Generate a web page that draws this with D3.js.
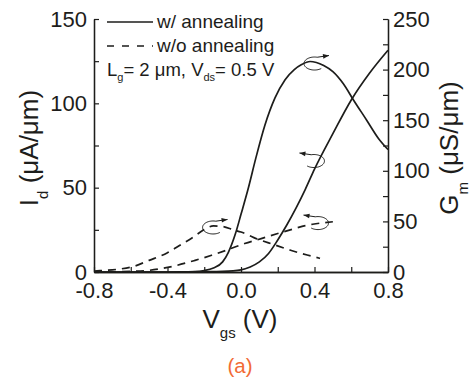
<!DOCTYPE html>
<html><head><meta charset="utf-8">
<script src="https://cdn.jsdelivr.net/npm/d3@7/dist/d3.min.js"></script>
<style>
html,body{margin:0;padding:0;background:#fff;}
svg{display:block;font-family:Arial,"Liberation Sans",Helvetica,sans-serif;}
</style></head>
<body>
<svg id="chart" width="470" height="381"></svg>
<script>
// ---- data ----
const xTicksMajor = [-0.8, -0.4, 0.0, 0.4, 0.8];
const xTickLabels = ["-0.8", "-0.4", "0.0", "0.4", "0.8"];
const xTicksMinor = [-0.6, -0.2, 0.2, 0.6];
const yLeftTicksMajor = [0, 50, 100, 150];
const yLeftTicksMinor = [25, 75, 125];
const yRightTicksMajor = [0, 50, 100, 150, 200, 250];
const yRightTicksMinor = [25, 75, 125, 175, 225];

// w/ annealing, Id (left axis)
const vgsIdW = [-0.8, -0.6, -0.4, -0.3, -0.2, -0.1, 0.0, 0.05, 0.1, 0.15, 0.2, 0.25, 0.3, 0.35, 0.4, 0.5, 0.6, 0.7, 0.8];
const idW    = [0, 0, 0, 0.1, 0.2, 0.4, 1.3, 3, 6, 11, 19, 28, 38, 49, 61, 82, 102, 118, 131.5];
// w/ annealing, Gm (right axis)
const vgsGmW = [-0.8, -0.4, -0.25, -0.2, -0.15, -0.1, -0.07, -0.03, 0.0, 0.04, 0.08, 0.13, 0.185, 0.24, 0.29, 0.33, 0.376, 0.41, 0.45, 0.5, 0.557, 0.612, 0.684, 0.748, 0.8];
const gmW    = [0, 0, 0.5, 1.5, 4, 10, 19, 38, 57, 83, 112, 145, 172, 190, 200, 205, 208, 207, 204, 198, 186, 170, 150, 132, 121];
// w/o annealing, Id (left axis)
const vgsIdWo = [-0.8, -0.59, -0.5, -0.37, -0.25, -0.16, -0.07, 0.02, 0.11, 0.2, 0.29, 0.35, 0.39, 0.5];
const idWo    = [0, 0.4, 1.0, 3.4, 6.9, 9.9, 13.3, 16.9, 19.8, 22.8, 25.7, 27.5, 28.3, 29.8];
// w/o annealing, Gm (right axis)
const vgsGmWo = [-0.8, -0.767, -0.67, -0.59, -0.5, -0.4, -0.33, -0.26, -0.2, -0.15, -0.1, -0.04, 0.0, 0.07, 0.18, 0.27, 0.36, 0.43];
const gmWo    = [1, 1.3, 2.7, 5.2, 11.5, 19, 26.7, 34.5, 42, 45.5, 45, 41.5, 39.5, 34, 27, 21.5, 16.8, 13.5];

// annotation anchors (data units) : [vgs, value, axis, direction]
const notes = [
  {v: 0.40, val: 206, axis: "R", dir: 1},
  {v: 0.397, val: 65.8, axis: "L", dir: -1},
  {v: -0.152, val: 44, axis: "R", dir: 1},
  {v: 0.419, val: 29, axis: "L", dir: -1}
];

// ---- layout ----
const svg = d3.select("#chart");
const ink = "#1d1d1b";
const x = d3.scaleLinear().domain([-0.8, 0.8]).range([94, 388]);
const yL = d3.scaleLinear().domain([0, 150]).range([272, 19]);
const yR = d3.scaleLinear().domain([0, 250]).range([272, 19]);

function styleAxis(g){
  g.selectAll("path.domain").attr("stroke", ink).attr("stroke-width", 1.3);
  g.selectAll(".tick line").attr("stroke", ink).attr("stroke-width", 1.2);
  g.selectAll(".tick text").attr("fill", ink).style("font-size", "22px")
    .style("font-family", "Arial, 'Liberation Sans', Helvetica, sans-serif");
}

// bottom axis
svg.append("g").attr("transform", "translate(0,272)")
  .call(d3.axisBottom(x).tickValues(xTicksMinor).tickSize(-5).tickSizeOuter(0).tickFormat(""))
  .call(styleAxis);
svg.append("g").attr("transform", "translate(0,272)")
  .call(d3.axisBottom(x).tickValues(xTicksMajor).tickSize(-5).tickSizeOuter(0).tickPadding(10)
    .tickFormat((d, i) => xTickLabels[i]))
  .call(styleAxis);
// left axis
svg.append("g").attr("transform", "translate(94,0)")
  .call(d3.axisLeft(yL).tickValues(yLeftTicksMinor).tickSize(-5).tickSizeOuter(0).tickFormat(""))
  .call(styleAxis);
svg.append("g").attr("transform", "translate(94,0)")
  .call(d3.axisLeft(yL).tickValues(yLeftTicksMajor).tickSize(-5).tickSizeOuter(0).tickPadding(7)
    .tickFormat(d3.format("d")))
  .call(styleAxis);
// right axis
svg.append("g").attr("transform", "translate(388,0)")
  .call(d3.axisRight(yR).tickValues(yRightTicksMinor).tickSize(-5).tickSizeOuter(0).tickFormat(""))
  .call(styleAxis);
svg.append("g").attr("transform", "translate(388,0)")
  .call(d3.axisRight(yR).tickValues(yRightTicksMajor).tickSize(-5).tickSizeOuter(0).tickPadding(5)
    .tickFormat(d3.format("d")))
  .call(styleAxis);

// ---- curves ----
function drawCurve(vs, vals, yScale, dashed){
  const line = d3.line().x((d, i) => x(vs[i])).y(d => yScale(d)).curve(d3.curveMonotoneX);
  svg.append("path").datum(vals).attr("d", line)
    .attr("fill", "none").attr("stroke", ink).attr("stroke-width", 1.7)
    .attr("stroke-dasharray", dashed ? "8,6" : null);
}
drawCurve(vgsIdWo, idWo, yL, true);
drawCurve(vgsGmWo, gmWo, yR, true);
drawCurve(vgsIdW, idW, yL, false);
drawCurve(vgsGmW, gmW, yR, false);

// ---- annotation arrows ----
notes.forEach(n => {
  const cx = x(n.v), cy = (n.axis === "L" ? yL : yR)(n.val);
  const rx = 10.5, ry = 6.5;
  const pt = a => [cx + rx * Math.cos(a), cy + ry * Math.sin(a)];
  const rad = Math.PI / 180;
  let pts = [];
  if (n.dir > 0) {
    for (let a = 50; a <= 285; a += 5) pts.push(pt(a * rad));
  } else {
    for (let a = 130; a >= -105; a -= 5) pts.push(pt(a * rad));
  }
  const last = pts[pts.length - 1];
  const tip = [cx + n.dir * (rx + 4), cy - ry - 1.5];
  pts.push(tip);
  svg.append("path").attr("d", d3.line().curve(d3.curveLinear)(pts))
    .attr("fill", "none").attr("stroke", ink).attr("stroke-width", 1);
  const ang = Math.atan2(tip[1] - last[1], tip[0] - last[0]);
  const L = 6, W = 2.3;
  const b = [tip[0] - L * Math.cos(ang), tip[1] - L * Math.sin(ang)];
  const p1 = [b[0] + W * Math.sin(ang), b[1] - W * Math.cos(ang)];
  const p2 = [b[0] - W * Math.sin(ang), b[1] + W * Math.cos(ang)];
  svg.append("path").attr("d", `M${tip}L${p1}L${p2}Z`).attr("fill", ink);
});

// ---- legend ----
const lg = svg.append("g");
lg.append("line").attr("x1", 107).attr("x2", 153).attr("y1", 22).attr("y2", 22)
  .attr("stroke", ink).attr("stroke-width", 1.7);
lg.append("line").attr("x1", 107).attr("x2", 153).attr("y1", 46).attr("y2", 46)
  .attr("stroke", ink).attr("stroke-width", 1.7).attr("stroke-dasharray", "7,8");
lg.append("text").attr("x", 157).attr("y", 28).attr("fill", ink).style("font-size", "19px").text("w/ annealing");
lg.append("text").attr("x", 157).attr("y", 52).attr("fill", ink).style("font-size", "19px").text("w/o annealing");
const t3 = lg.append("text").attr("x", 107).attr("y", 76).attr("fill", ink).style("font-size", "18.5px");
t3.append("tspan").text("L");
t3.append("tspan").attr("dy", 5).style("font-size", "11px").text("g");
t3.append("tspan").attr("dy", -5).text("= 2 \u03bcm, V");
t3.append("tspan").attr("dy", 5).style("font-size", "11px").text("ds");
t3.append("tspan").attr("dy", -5).text("= 0.5 V");

// ---- axis titles ----
const tl = svg.append("text").attr("transform", "translate(37.5,148) rotate(-90)")
  .attr("text-anchor", "middle").attr("fill", ink).style("font-size", "26px");
tl.append("tspan").text("I");
tl.append("tspan").attr("dy", 10).style("font-size", "15px").text("d");
tl.append("tspan").attr("dy", -10).text(" (\u03bcA/\u03bcm)");

const tr = svg.append("text").attr("transform", "translate(458,148) rotate(-90)")
  .attr("text-anchor", "middle").attr("fill", ink).style("font-size", "26px");
tr.append("tspan").text("G");
tr.append("tspan").attr("dy", 10).style("font-size", "15px").text("m");
tr.append("tspan").attr("dy", -10).text(" (\u03bcS/\u03bcm)");

const tx = svg.append("text").attr("x", 240).attr("y", 328)
  .attr("text-anchor", "middle").attr("fill", ink).style("font-size", "26px");
tx.append("tspan").text("V");
tx.append("tspan").attr("dy", 10).style("font-size", "15px").text("gs");
tx.append("tspan").attr("dy", -10).text(" (V)");

svg.append("text").attr("x", 240).attr("y", 373).attr("text-anchor", "middle")
  .attr("fill", "#f26b35").style("font-size", "20.5px").text("(a)");
</script>
</body></html>
